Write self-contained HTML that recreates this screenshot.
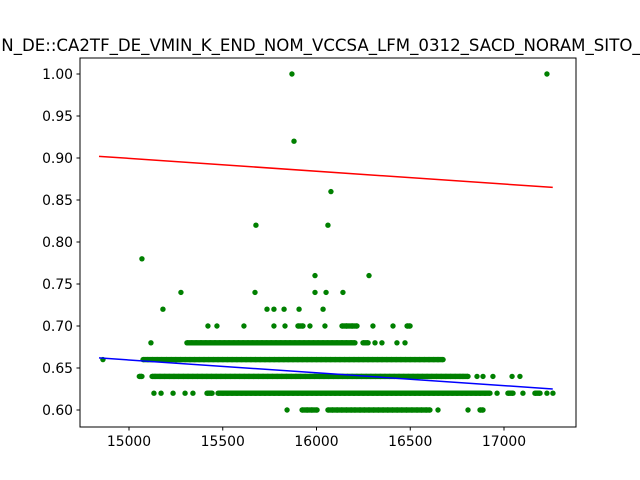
<!DOCTYPE html>
<html><head><meta charset="utf-8"><style>
html,body{margin:0;padding:0;background:#fff;overflow:hidden}
svg{display:block;font-family:"DejaVu Sans","Liberation Sans",sans-serif}
</style></head><body>
<svg id="chart" width="640" height="480"></svg>
<script>
const xTicks=[15000,15500,16000,16500,17000];
const yTicks=[0.60,0.65,0.70,0.75,0.80,0.85,0.90,0.95,1.00];
const yTickLabels=["0.60","0.65","0.70","0.75","0.80","0.85","0.90","0.95","1.00"];
const titleText="N_DE::CA2TF_DE_VMIN_K_END_NOM_VCCSA_LFM_0312_SACD_NORAM_SITO_";
const ptsX060=[15843,15923,15950,15975,16003,16061,16085,16110,16135,16160,16185,16205,16232,16255,16280,16305,16330,16355,16380,16405,16430,16455,16480,16509,16536,16560,16585,16605,16648,16808,16872,16888];
const ptsX062=[15133,15171,15235,15299,15341,15416,15443,15475,15500,15525,15550,15575,15600,15625,15650,15675,15700,15725,15750,15775,15800,15825,15850,15875,15900,15925,15950,15975,16000,16025,16050,16075,16100,16125,16150,16175,16200,16225,16250,16275,16300,16325,16350,16375,16400,16425,16450,16475,16500,16525,16550,16575,16600,16625,16650,16675,16700,16725,16750,16775,16800,16825,16850,16872,16899,16925,16963,17021,17048,17101,17165,17192,17229,17261];
const ptsX064=[15055,15069,15123,15139,15165,15190,15215,15240,15265,15290,15315,15340,15365,15390,15415,15440,15465,15490,15515,15540,15565,15590,15615,15640,15665,15690,15715,15740,15765,15790,15815,15840,15865,15890,15915,15940,15965,15990,16015,16040,16065,16090,16115,16140,16165,16190,16215,16240,16265,16290,16315,16340,16365,16390,16415,16440,16465,16490,16515,16540,16565,16590,16615,16640,16665,16690,16715,16740,16765,16781,16808,16856,16888,16941,17043,17085];
const ptsX066=[14861,15075,15100,15125,15150,15175,15200,15225,15250,15275,15300,15325,15350,15375,15400,15425,15450,15475,15500,15525,15550,15575,15600,15625,15650,15675,15700,15725,15750,15775,15800,15825,15850,15875,15900,15925,15950,15975,16000,16025,16050,16075,16100,16125,16150,16175,16200,16225,16250,16275,16300,16325,16350,16375,16400,16425,16450,16475,16500,16525,16550,16575,16600,16625,16648,16675];
const ptsX068=[15117,15309,15334,15359,15384,15409,15434,15459,15484,15509,15534,15559,15584,15609,15634,15659,15684,15709,15734,15759,15784,15809,15834,15859,15884,15909,15934,15959,15984,16009,16034,16059,16084,16109,16136,16160,16185,16205,16248,16275,16312,16349,16429,16472];
const ptsX070=[15421,15469,15613,15773,15832,15901,15928,15965,16045,16136,16160,16190,16216,16301,16408,16483,16499];
const ptsX072=[15181,15736,15773,15827,15907,16035];
const outX=[15869,17229,15880,16077,16061,15677,15069,15992,16280,15277,15672,15992,16051,16141];
const outY=[1.00,1.00,0.92,0.86,0.82,0.82,0.78,0.76,0.76,0.74,0.74,0.74,0.74,0.74];
const redLineX=[14840,17260], redLineY=[0.902,0.865];
const blueLineX=[14840,17260], blueLineY=[0.662,0.625];

const NS="http://www.w3.org/2000/svg";
const svg=document.getElementById('chart');
const L=80,R=576,T=58,B=427;
function sx(v){return 129+(v-15000)*0.1875;}
function sy(v){return 410-(v-0.6)*840;}
function mk(tag,attrs,parent){const e=document.createElementNS(NS,tag);for(const k in attrs)e.setAttribute(k,attrs[k]);(parent||svg).appendChild(e);return e;}

const title=mk('text',{x:321,y:51,'text-anchor':'middle','font-size':'16.6',fill:'#000'});


title.textContent=titleText;

const pts=mk('g',{fill:'#008000'});


function dots(xs,yv){
  xs.forEach((x,i)=>{
    const y=Array.isArray(yv)?yv[i]:yv;
    const c=mk('circle',{cx:sx(x),cy:sy(y),r:2.7},pts);
    
    
    if(!Array.isArray(yv)&&i>0&&x-xs[i-1]<=30){
      const s=mk('line',{x1:sx(xs[i-1]),y1:sy(y),x2:sx(x),y2:sy(y),stroke:'#008000','stroke-width':5.4},pts);
      
      
    }
  });
}
dots(ptsX060,0.60);dots(ptsX062,0.62);dots(ptsX064,0.64);dots(ptsX066,0.66);
dots(ptsX068,0.68);dots(ptsX070,0.70);dots(ptsX072,0.72);dots(outX,outY);

const red=mk('line',{x1:sx(redLineX[0]),y1:sy(redLineY[0]),x2:sx(redLineX[1]),y2:sy(redLineY[1]),stroke:'#ff0000','stroke-width':1.5});


const blue=mk('line',{x1:sx(blueLineX[0]),y1:sy(blueLineY[0]),x2:sx(blueLineX[1]),y2:sy(blueLineY[1]),stroke:'#0000ff','stroke-width':1.5});



const frame=mk('rect',{x:L,y:T,width:R-L,height:B-T,fill:'none',stroke:'#000','stroke-width':1});



const xa=mk('g',{'font-size':'13.9',fill:'#000'});


xTicks.forEach(v=>{const x=sx(v);mk('line',{x1:x,y1:B,x2:x,y2:B+3.5,stroke:'#000'},xa);
const t=mk('text',{x:x,y:B+19,'text-anchor':'middle'},xa);


t.textContent=v;});

const ya=mk('g',{'font-size':'13.9',fill:'#000'});


yTicks.forEach((v,i)=>{const y=sy(v);mk('line',{x1:L-3.5,y1:y,x2:L,y2:y,stroke:'#000'},ya);
const t=mk('text',{x:L-7,y:y+5,'text-anchor':'end'},ya);


t.textContent=yTickLabels[i];});
</script>
</body></html>
